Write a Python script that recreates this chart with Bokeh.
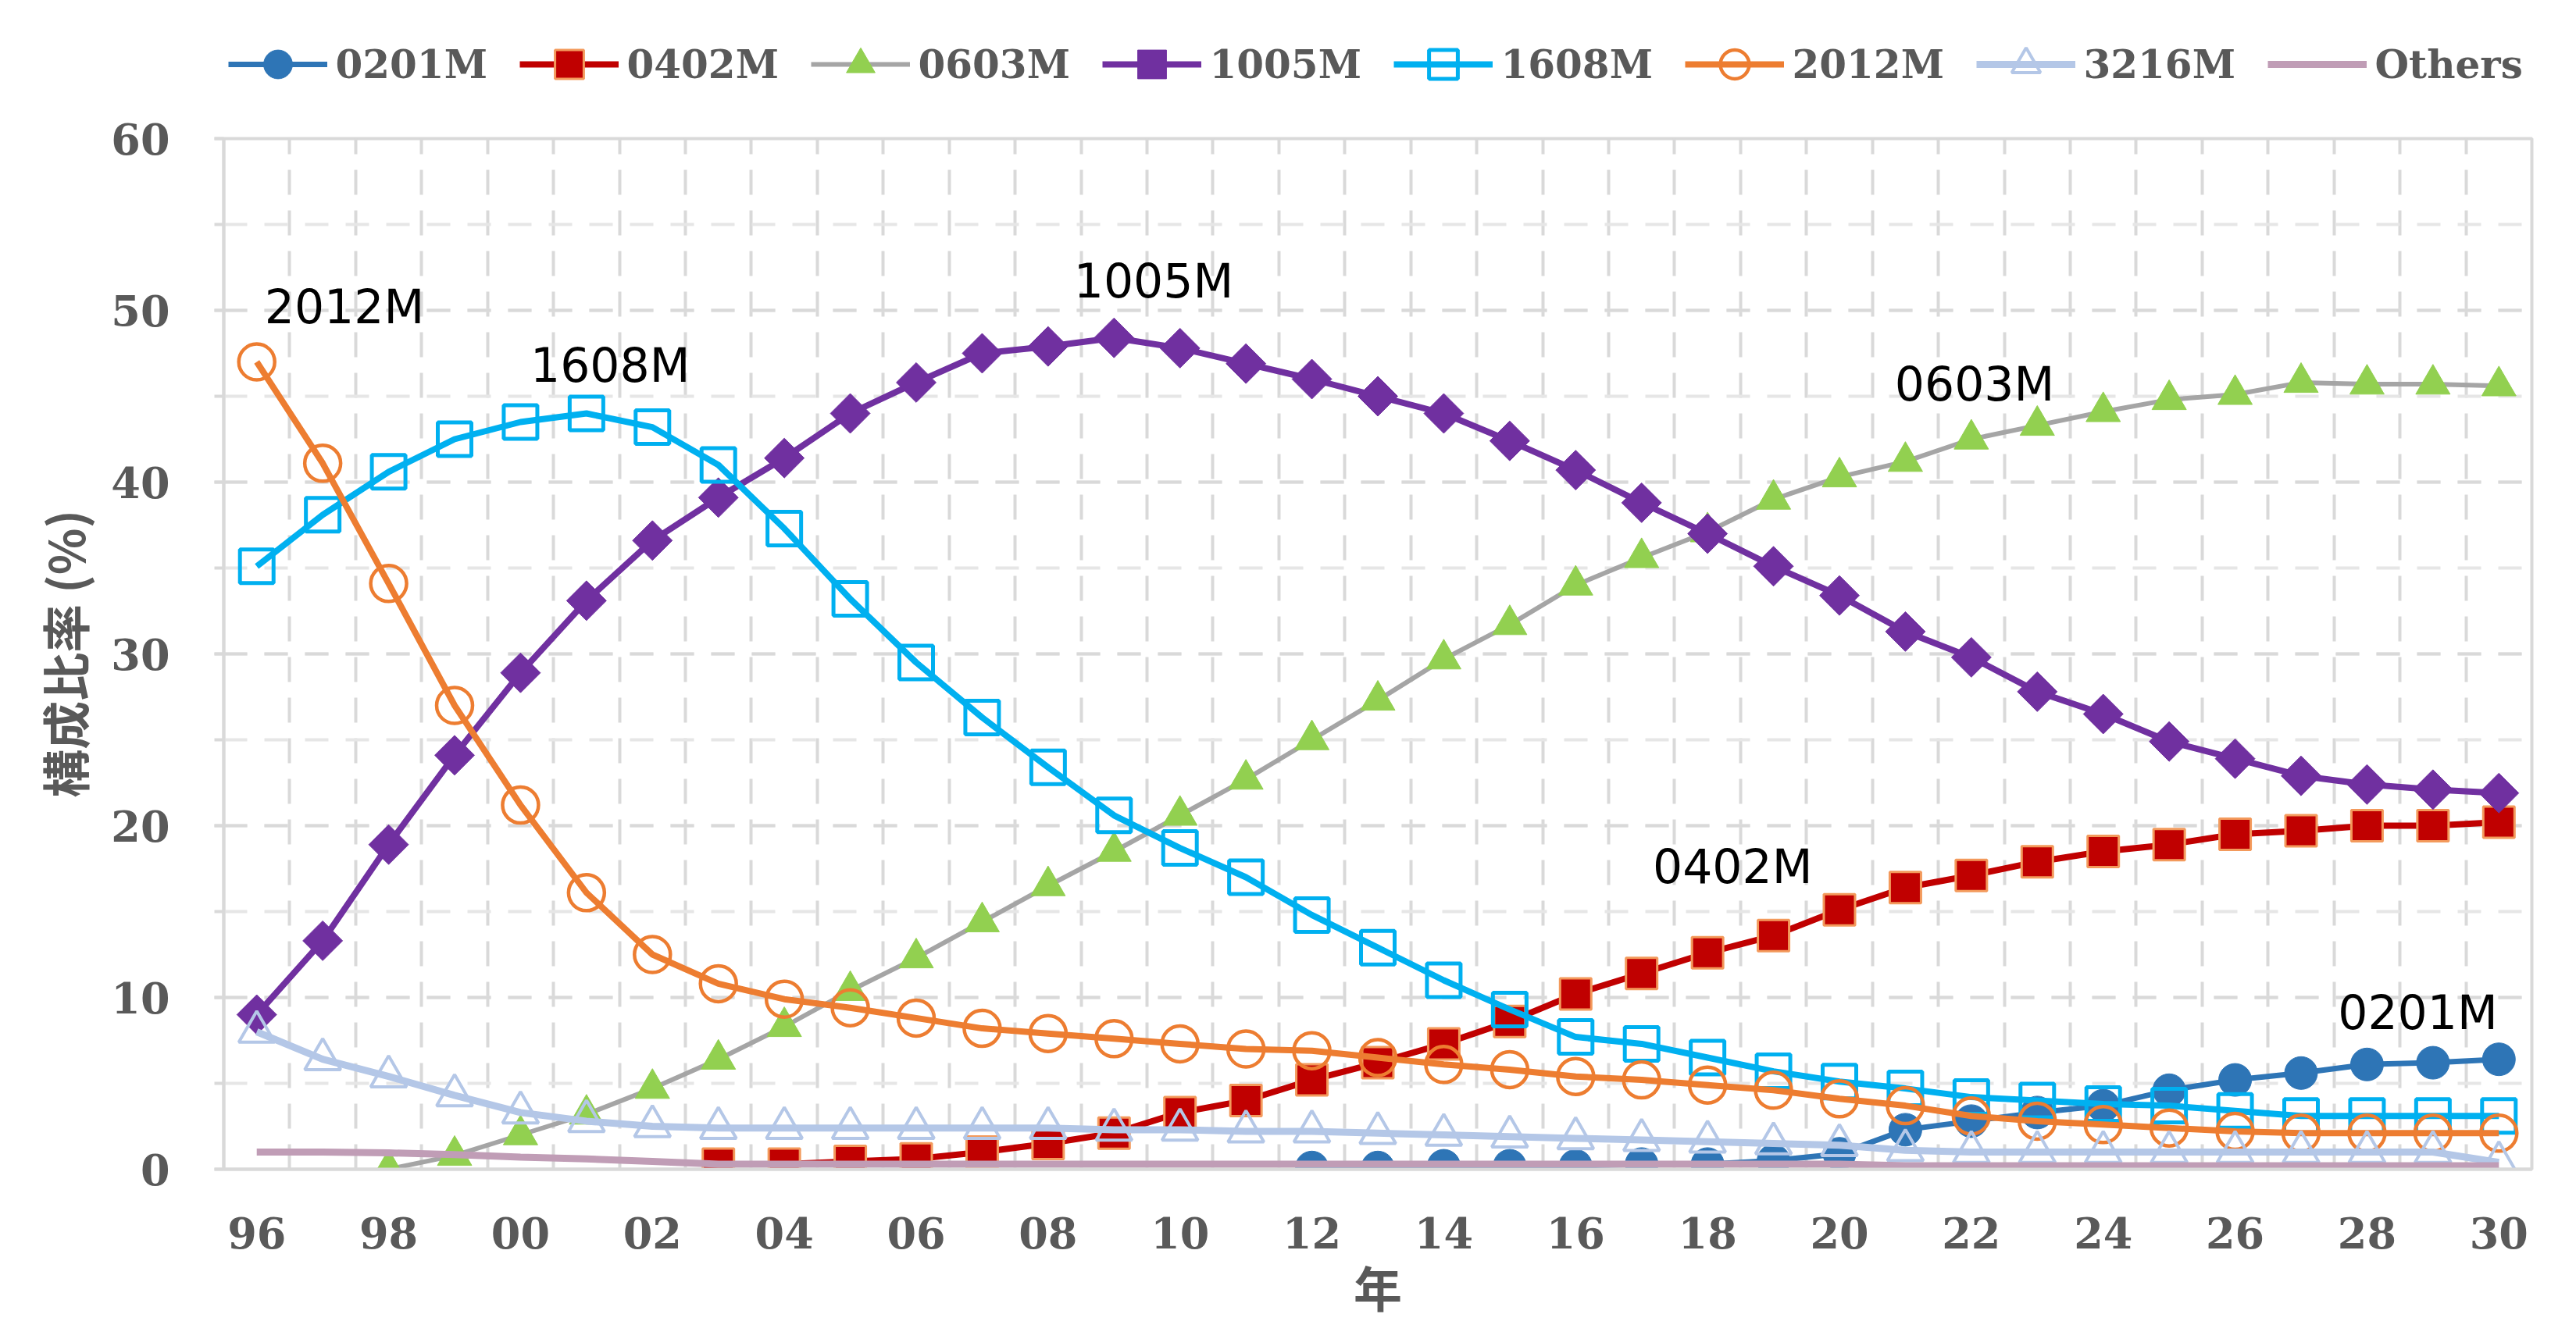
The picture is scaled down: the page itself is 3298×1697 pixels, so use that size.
import numpy as np
from bokeh.plotting import figure
from bokeh.layouts import column
from bokeh.models import (Range1d, FixedTicker, SingleIntervalTicker, Legend,
                          LegendItem, ColumnDataSource)
from bokeh.core.properties import value
from bokeh.embed import file_html
from bokeh.resources import INLINE

nan = float("nan")

# ---------------- data ----------------
years = list(range(1996, 2031))
x_tick_years = years[::2]
x_tick_labels = {y: f"{y % 100:02d}" for y in x_tick_years}

s0201 = [nan] * 16 + [0.1, 0.1, 0.2, 0.2, 0.2, 0.3, 0.3, 0.5, 0.9, 2.3, 2.8, 3.3,
                      3.7, 4.6, 5.2, 5.6, 6.1, 6.2, 6.4]
s0402 = [nan] * 7 + [0.3, 0.3, 0.45, 0.6, 1.0, 1.5, 2.1, 3.3, 4.0, 5.2, 6.2, 7.3,
                     8.6, 10.2, 11.4, 12.6, 13.6, 15.1, 16.4, 17.1, 17.9, 18.5,
                     18.9, 19.5, 19.7, 20.0, 20.0, 20.2]
s0603 = [nan] * 2 + [0.0, 0.8, 2.0, 3.2, 4.7, 6.4, 8.3, 10.4, 12.3, 14.4, 16.5,
                     18.5, 20.6, 22.7, 25.0, 27.3, 29.7, 31.7, 34.0, 35.6, 37.1,
                     39.0, 40.3, 41.2, 42.5, 43.3, 44.1, 44.8, 45.1, 45.8, 45.7,
                     45.7, 45.6]
s1005 = [9.0, 13.3, 18.9, 24.1, 28.9, 33.1, 36.6, 39.1, 41.4, 44.0, 45.8, 47.5,
         47.9, 48.4, 47.8, 46.9, 46.0, 45.0, 44.0, 42.4, 40.7, 38.8, 37.0, 35.1,
         33.4, 31.3, 29.8, 27.8, 26.5, 24.9, 23.9, 22.9, 22.4, 22.1, 21.9]
s1608 = [35.1, 38.1, 40.6, 42.5, 43.5, 44.0, 43.2, 41.0, 37.3, 33.2, 29.5, 26.3,
         23.4, 20.6, 18.7, 17.0, 14.8, 12.9, 11.0, 9.3, 7.7, 7.3, 6.5, 5.7, 5.1,
         4.7, 4.2, 4.0, 3.8, 3.7, 3.4, 3.1, 3.1, 3.1, 3.1]
s2012 = [47.0, 41.1, 34.1, 27.0, 21.2, 16.1, 12.5, 10.8, 9.9, 9.4, 8.8, 8.2, 7.9,
         7.6, 7.3, 7.0, 6.9, 6.5, 6.1, 5.8, 5.4, 5.2, 4.9, 4.6, 4.1, 3.7, 3.1,
         2.8, 2.6, 2.4, 2.2, 2.1, 2.1, 2.1, 2.1]
s3216 = [8.0, 6.4, 5.4, 4.3, 3.3, 2.8, 2.5, 2.4, 2.4, 2.4, 2.4, 2.4, 2.4, 2.3,
         2.3, 2.2, 2.2, 2.1, 2.0, 1.9, 1.8, 1.7, 1.6, 1.5, 1.4, 1.1, 1.0, 1.0,
         1.0, 1.0, 1.0, 1.0, 1.0, 1.0, 0.4]
others = [1.0, 1.0, 0.95, 0.85, 0.7, 0.6, 0.45, 0.3, 0.3, 0.3, 0.3, 0.3, 0.3, 0.3,
          0.3, 0.3, 0.3, 0.3, 0.3, 0.3, 0.3, 0.3, 0.3, 0.3, 0.3, 0.2, 0.2, 0.2,
          0.2, 0.2, 0.2, 0.2, 0.2, 0.2, 0.2]

series_names = ["0201M", "0402M", "0603M", "1005M", "1608M", "2012M", "3216M", "Others"]
series_values = [s0201, s0402, s0603, s1005, s1608, s2012, s3216, others]

# in-chart labels
ann_text = ["2012M", "1608M", "1005M", "0603M", "0402M", "0201M"]
ann_x = [1997.33, 2001.36, 2009.6, 2022.05, 2018.38, 2028.77]
ann_y = [50.2, 46.8, 51.7, 45.7, 17.6, 9.1]

y_label = "構成比率 (%)"
x_label = "年"

# ---------------- styles ----------------
styles = {
    "0201M": dict(line="#2E75B6", lw=7, marker="circle", size=42, fill="#2E75B6",
                  mline="#2E75B6", mlw=1, angle=0.0),
    "0402M": dict(line="#C00000", lw=8, marker="square", size=40, fill="#C00000",
                  mline="#F39A5C", mlw=3, angle=0.0),
    "0603M": dict(line="#A5A5A5", lw=6, marker="triangle", size=44, fill="#92D050",
                  mline="#92D050", mlw=1, angle=0.0),
    "1005M": dict(line="#7030A0", lw=8, marker="square", size=36, fill="#7030A0",
                  mline="#7030A0", mlw=1, angle=np.pi / 4),
    "1608M": dict(line="#00B0F0", lw=8, marker="square", size=43, fill=None,
                  mline="#00B0F0", mlw=5, angle=0.0),
    "2012M": dict(line="#ED7D31", lw=8, marker="circle", size=46, fill=None,
                  mline="#ED7D31", mlw=4.5, angle=0.0),
    "3216M": dict(line="#B4C7E7", lw=9, marker="triangle", size=46, fill=None,
                  mline="#B4C7E7", mlw=4, angle=0.0),
    "Others": dict(line="#C09DB6", lw=9, marker=None),
}

GRID = "#D9D9D9"
TXT = "#595959"
TICK_FONT = "DejaVu Serif"
W = 3290
TOTAL_H = 1697
LEG_H = 137

# ---------------- main chart ----------------
p = figure(width=W, height=TOTAL_H - LEG_H, output_backend="svg", toolbar_location=None,
           x_range=Range1d(1995.5, 2030.5), y_range=Range1d(0, 60),
           min_border_left=286, min_border_right=49, min_border_top=40,
           min_border_bottom=200)
p.background_fill_color = "white"
p.border_fill_color = "white"
p.outline_line_color = GRID
p.outline_line_width = 4

# axes
p.xaxis.ticker = FixedTicker(ticks=x_tick_years)
p.xaxis.major_label_overrides = x_tick_labels
p.xaxis.major_tick_out = 0
p.xaxis.major_tick_in = 0
p.xaxis.minor_tick_out = 0
p.xaxis.minor_tick_in = 0
p.xaxis.major_label_standoff = 61
p.yaxis.ticker = SingleIntervalTicker(interval=10, num_minor_ticks=2)
p.yaxis.major_tick_out = 12
p.yaxis.minor_tick_out = 12
p.yaxis.major_tick_in = 0
p.yaxis.minor_tick_in = 0
p.yaxis.major_tick_line_color = GRID
p.yaxis.minor_tick_line_color = GRID
p.yaxis.major_tick_line_width = 4
p.yaxis.minor_tick_line_width = 4
p.yaxis.major_label_standoff = 57
for ax in (p.xaxis, p.yaxis):
    ax.axis_line_color = GRID
    ax.axis_line_width = 4
    ax.major_label_text_font = TICK_FONT
    ax.major_label_text_font_style = "bold"
    ax.major_label_text_font_size = "54px"
    ax.major_label_text_color = TXT
    ax.axis_label_text_font = "Noto Sans CJK JP"
    ax.axis_label_text_font_style = "bold"
    ax.axis_label_text_font_size = "62px"
    ax.axis_label_text_color = TXT
p.yaxis.axis_label = y_label
p.yaxis.axis_label_standoff = 12
p.xaxis.axis_label = x_label
p.xaxis.axis_label_standoff = 1

# grids
p.xgrid.ticker = FixedTicker(ticks=[y + 0.5 for y in years[:-1]])
p.xgrid.grid_line_color = GRID
p.xgrid.grid_line_width = 4
p.xgrid.grid_line_dash = "32 20"
p.ygrid.ticker = SingleIntervalTicker(interval=10, num_minor_ticks=2)
p.ygrid.grid_line_color = GRID
p.ygrid.grid_line_width = 4
p.ygrid.grid_line_dash = "30 22"
p.ygrid.minor_grid_line_color = "#E6E6E6"
p.ygrid.minor_grid_line_width = 4
p.ygrid.minor_grid_line_dash = "30 22"

# ---------------- legend strip (same sources, plotted outside its range) ----------------
leg = figure(width=W, height=LEG_H, output_backend="svg", toolbar_location=None,
             x_range=Range1d(1995.5, 2030.5), y_range=Range1d(1000, 1001),
             x_axis_location=None, y_axis_location=None,
             min_border_left=254, min_border_right=0, min_border_top=27,
             min_border_bottom=0)
leg.grid.visible = False
leg.outline_line_color = None
leg.background_fill_color = "white"
leg.border_fill_color = "white"

def add_series(fig, src, st):
    rs = [fig.line("x", "y", source=src, line_color=st["line"], line_width=st["lw"])]
    if st["marker"]:
        rs.append(fig.scatter("x", "y", source=src, marker=st["marker"], size=st["size"],
                              fill_color=st["fill"], line_color=st["mline"],
                              line_width=st["mlw"], angle=st["angle"]))
    return rs

items = []
for name, vals in zip(series_names, series_values):
    st = styles[name]
    src = ColumnDataSource(dict(x=years, y=vals))
    add_series(p, src, st)
    items.append(LegendItem(label=name, renderers=add_series(leg, src, st)))

# in-chart labels
p.text(x=ann_x, y=ann_y, text=ann_text, text_font=value("DejaVu Sans"),
       text_font_size=value("60px"), text_color="#000000",
       text_align="center", text_baseline="middle")

legend = Legend(items=items, orientation="horizontal", location="center",
                glyph_width=127, glyph_height=92, label_standoff=11,
                label_width=195, spacing=40, padding=0, margin=0,
                border_line_color=None, background_fill_alpha=0)
legend.label_text_font = TICK_FONT
legend.label_text_font_style = "bold"
legend.label_text_font_size = "50px"
legend.label_text_color = TXT
leg.add_layout(legend, "center")

layout = column(leg, p, spacing=0)
open("out.html", "w").write(file_html(layout, INLINE))
